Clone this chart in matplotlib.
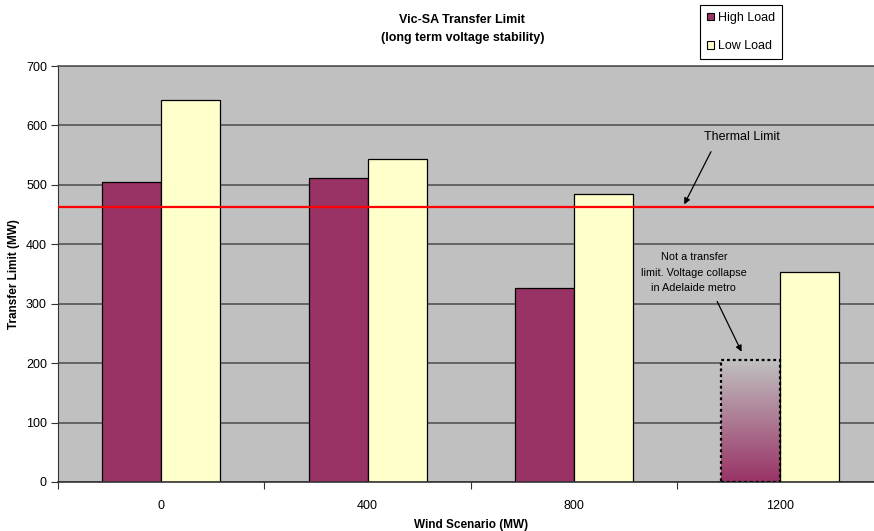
import numpy as np
import matplotlib
matplotlib.use("Agg")
import matplotlib.pyplot as plt
from matplotlib.patches import Patch, Rectangle
from matplotlib.colors import LinearSegmentedColormap

plt.rcParams['font.family'] = ['Liberation Sans', 'DejaVu Sans']

# wind scenarios and transfer limits (MW)
scenarios = ['0', '400', '800', '1200']
high_load = [505, 512, 326, 205]
low_load = [642, 544, 485, 353]
thermal_limit = 463
# the 1200 MW high load case is not a real limit (voltage collapse)
not_a_limit = [False, False, False, True]

high_col = '#993366'
low_col = '#FFFFCC'
bg_col = '#C0C0C0'

fig = plt.figure(figsize=(8.74, 5.31), dpi=100)
ax = fig.add_axes([0.0664, 0.0923, 0.9445, 0.7834])
ax.set_facecolor(bg_col)

x = np.arange(len(scenarios))
w = 2 / 7

for i in range(len(scenarios)):
    if not_a_limit[i]:
        # faded bar with dotted outline
        x0 = x[i] - w
        cmap = LinearSegmentedColormap.from_list('fade', [high_col, bg_col])
        grad = np.linspace(0, 1, 256).reshape(-1, 1)
        ax.imshow(grad, cmap=cmap, origin='lower', aspect='auto',
                  extent=[x0, x0 + w, 0, high_load[i]], zorder=2)
        r = Rectangle((x0, 0), w, high_load[i], fill=False, edgecolor='black',
                      linewidth=1.6, linestyle=(0, (1.3, 1.3)), zorder=3)
        ax.add_patch(r)
    else:
        ax.bar(x[i] - w / 2, high_load[i], width=w, color=high_col,
               edgecolor='black', linewidth=0.9, zorder=2)
ax.bar(x + w / 2, low_load, width=w, color=low_col, edgecolor='black',
       linewidth=0.9, zorder=2)

ax.axhline(thermal_limit, color='red', linewidth=1.6, zorder=4)

ax.set_xlim(-0.5, 3.5)
ax.set_ylim(0, 700)
ax.set_yticks(range(0, 701, 100))
ax.yaxis.grid(True, color='#555555', linewidth=1.2, zorder=0)
ax.set_axisbelow(True)

ax.set_xticks(x)
ax.set_xticklabels(scenarios)
ax.set_xticks(np.arange(-0.5, 3.6, 1), minor=True)
ax.tick_params(axis='x', which='major', length=0, pad=13, labelsize=9)
ax.tick_params(axis='x', which='minor', length=5, width=0.8, color='#333333')
ax.tick_params(axis='y', length=5, width=0.8, color='#333333', labelsize=9, pad=3)

for s in ['top', 'right']:
    ax.spines[s].set_color('#555555')
    ax.spines[s].set_linewidth(1.2)
ax.spines['left'].set_color('#333333')
ax.spines['bottom'].set_color('#333333')
ax.spines['bottom'].set_linewidth(1.2)

ax.set_xlabel('Wind Scenario (MW)', fontsize=8.5, fontweight='bold', labelpad=5)
fig.text(14 / 874, 1 - 274 / 531, 'Transfer Limit (MW)', rotation=90,
         ha='center', va='center', fontsize=8.5, fontweight='bold')

fig.text(0.529, 1 - 29 / 531, 'Vic-SA Transfer Limit\n(long term voltage stability)',
         ha='center', va='center', fontsize=9, fontweight='bold',
         linespacing=1.7)

# annotations
ax.text(2.814, 580, 'Thermal Limit', ha='center', va='center', fontsize=9)
ax.annotate('', xy=(2.528, thermal_limit), xytext=(2.67, 560),
            arrowprops=dict(arrowstyle='-|>', color='black', lw=0.9,
                            mutation_scale=9), zorder=5)
ax.text(2.581, 352, 'Not a transfer\nlimit. Voltage collapse\nin Adelaide metro',
        ha='center', va='center', fontsize=7.8, linespacing=1.7)
ax.annotate('', xy=(2.818, 215), xytext=(2.688, 308),
            arrowprops=dict(arrowstyle='-|>', color='black', lw=0.9,
                            mutation_scale=9), zorder=5)

handles = [Patch(facecolor=high_col, edgecolor='black', linewidth=0.8, label='High Load'),
           Patch(facecolor=low_col, edgecolor='black', linewidth=0.8, label='Low Load')]
leg = fig.legend(handles=handles, loc='upper left',
                 bbox_to_anchor=(700 / 874, 1 - 5 / 531), fontsize=9,
                 handlelength=0.6, handleheight=0.6, handletextpad=0.3,
                 borderpad=0.55, labelspacing=1.3, fancybox=False,
                 edgecolor='black', framealpha=1, borderaxespad=0)
leg.get_frame().set_linewidth(0.8)

fig.savefig('out.png', dpi=100)
